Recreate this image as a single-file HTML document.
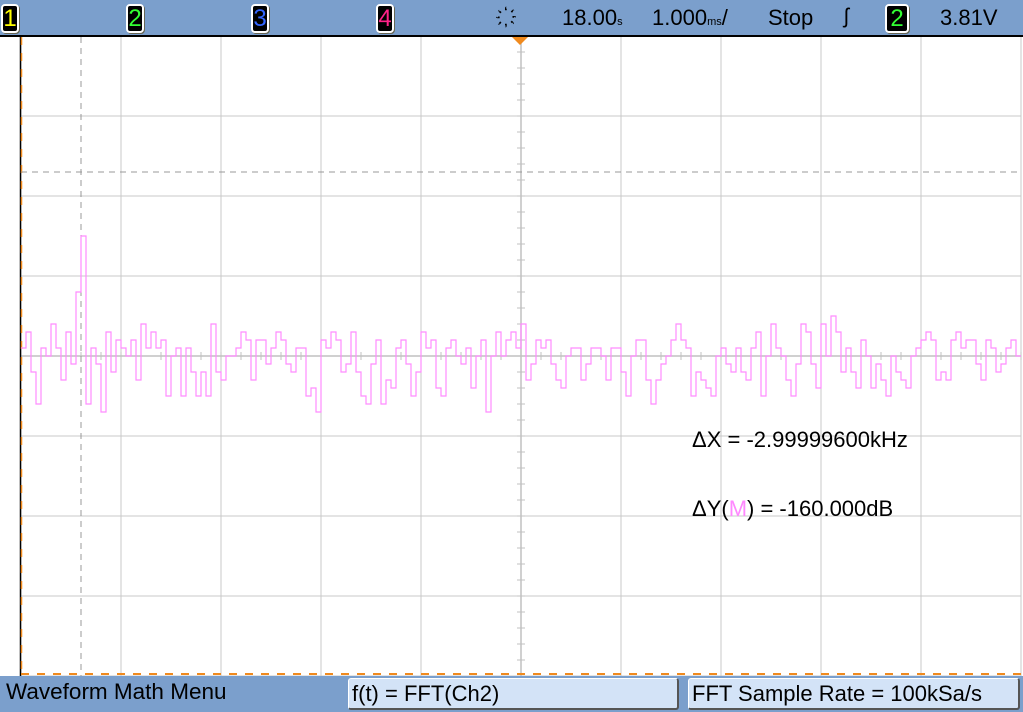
<!DOCTYPE html>
<html><head><meta charset="utf-8"><style>
body{margin:0;width:1023px;height:712px;overflow:hidden;background:#fff;font-family:"Liberation Sans",sans-serif}
#top{position:absolute;left:0;top:0;width:1023px;height:35px;background:#7b9fcc;border-bottom:2px solid #000}
.ch{position:absolute;top:4px;width:14px;height:25px;background:#000;border:2px solid #fff;border-radius:4px;box-shadow:1px 1px 0 #665;font-size:24px;line-height:25px;text-align:center}
.t{position:absolute;top:5px;font-size:21px;color:#000}
#bot{position:absolute;left:0;top:676px;width:1023px;height:36px;background:#7b9fcc}
.btn{position:absolute;top:2px;height:29px;background:#d3e3f7;border:1px solid #fff;border-right:2px solid #555;border-bottom:2px solid #555;border-radius:3px;font-size:22px;line-height:29px;padding-left:3px;box-sizing:content-box}
</style></head><body>
<div id="top">
<div class="ch" style="left:1px;color:#ff0">1</div>
<div class="ch" style="left:126px;color:#3f3">2</div>
<div class="ch" style="left:251px;color:#36f">3</div>
<div class="ch" style="left:376px;color:#f28">4</div>
<div class="t" style="left:506px;top:3px;font-size:22px">҉</div>
<div class="t" style="left:562px;font-size:22px">18.00<span style="font-size:11px">s</span></div>
<div class="t" style="left:652px;font-size:22px">1.000<span style="font-size:11px">ms</span>/</div>
<div class="t" style="left:768px;font-size:22px">Stop</div>
<div class="t" style="left:844px">&#x0283;</div>
<div class="ch" style="left:885px;width:20px;color:#3f3">2</div>
<div class="t" style="left:940px;font-size:22px">3.81V</div>
</div>
<svg id="plot" style="position:absolute;left:0;top:37px" width="1023" height="639"></svg>
<div style="position:absolute;left:692px;top:427px;font-size:22px">ΔX = -2.99999600kHz</div>
<div style="position:absolute;left:692px;top:496px;font-size:22px">ΔY(<span style="color:#f8f">M</span>) = -160.000dB</div>
<div id="bot">
<div style="position:absolute;left:6px;top:3px;font-size:22.5px">Waveform Math Menu</div>
<div class="btn" style="left:348px;width:325px">f(t) = FFT(Ch2)</div>
<div class="btn" style="left:688px;width:326px">FFT Sample Rate = 100kSa/s</div>
</div>
<script>
const levelDb=[1,3,-2,-6,1,0,4,1,-3,3,-1,8,15,-6,1,-1,-7,3,-2,2,1,0,2,-3,4,1,3,1,2,-5,0,1,-5,1,-2,-5,-2,-5,4,-2,-3,0,0,1,3,2,-3,2,2,-1,1,3,2,-1,-2,1,1,-5,-4,-7,2,1,3,2,
-2,-1,3,-2,-5,-6,-1,2,-6,-3,-4,1,2,-1,-5,-2,3,1,2,-4,-5,1,2,0,-1,1,-4,0,2,-7,0,3,0,2,3,1,4,-3,-1,2,1,2,-1,-3,-4,0,1,1,-3,-1,1,1,0,-3,1,1,-2,-5,0,2,2,-3,-6,-3,-1,0,2,4,2,1,-5,-2,-3,-4,-5,0,1,-1,-2,1,-2,-3,1,3,-5,0,4,1,0,-3,-5,-1,4,3,-1,-4,4,0,5,3,-2,1,-2,-4,2,0,-4,-1,-3,-5,0,-2,-3,-4,0,1,2,3,2,-3,-2,-3,2,3,1,2,2,-1,-3,2,1,-2,-1,1,2,0];
const yTicksDiv=[-4,-3,-2,-1,0,1,2,3,4];
const xTicksDiv=[0,1,2,3,4,5,6,7,8,9,10];
const cursorXdiv=0.6, cursorYdiv=2.3;
const svg=document.getElementById('plot');const NS='http://www.w3.org/2000/svg';
const X0=21,DX=100,CY=319,DY=80,BIN=5;
const xd=d=>X0+d*DX, yd=d=>CY-d*DY, yDb=v=>CY-v*DY/10, xb=i=>X0+i*BIN;
function mk(t,a,name){const e=document.createElementNS(NS,t);for(const k in a)e.setAttribute(k,a[k]);


svg.appendChild(e);return e;}
xTicksDiv.forEach(d=>mk('line',{x1:xd(d),x2:xd(d),y1:0,y2:639,stroke:'#c8c8c8','stroke-width':1},'grid-vertical'));
yTicksDiv.forEach(d=>mk('line',{x1:X0,x2:1021,y1:yd(d),y2:yd(d),stroke:'#c8c8c8','stroke-width':1},'grid-horizontal'));
mk('line',{x1:X0,x2:1021,y1:CY,y2:CY,stroke:'#c0c0c0','stroke-width':1.5},'center-axis-horizontal');
mk('line',{x1:xd(5),x2:xd(5),y1:0,y2:639,stroke:'#c0c0c0','stroke-width':1.5},'center-axis-vertical');
for(let i=0;i<=50;i++){mk('line',{x1:xd(i/5),x2:xd(i/5),y1:CY-4,y2:CY+4,stroke:'#c0c0c0'},'center-tick-x');}
for(let i=0;i<=40;i++){mk('line',{x1:xd(5)-4,x2:xd(5)+4,y1:yd(-4+i/5),y2:yd(-4+i/5),stroke:'#c0c0c0'},'center-tick-y');}
mk('line',{x1:20.5,x2:20.5,y1:0,y2:639,stroke:'#000','stroke-width':1.5},'left-border');
mk('line',{x1:21.5,x2:21.5,y1:0,y2:639,stroke:'#f08a1e','stroke-width':1.5,'stroke-dasharray':'8 8'},'ref-cursor-x');
mk('line',{x1:X0,x2:1021,y1:637,y2:637,stroke:'#f08a1e','stroke-width':2,'stroke-dasharray':'8 8'},'ref-cursor-y');
mk('line',{x1:xd(cursorXdiv),x2:xd(cursorXdiv),y1:0,y2:639,stroke:'#999','stroke-dasharray':'6 5'},'cursor-x2');
mk('line',{x1:X0,x2:1021,y1:yd(cursorYdiv),y2:yd(cursorYdiv),stroke:'#999','stroke-dasharray':'6 5'},'cursor-y2');
let d='';levelDb.forEach((v,i)=>{d+=(i?'L':'M')+xb(i)+' '+yDb(v)+'L'+(xb(i)+BIN)+' '+yDb(v);});
mk('path',{d:d,fill:'none',stroke:'#ff8cff','stroke-width':1.2},'fft-trace');
mk('polygon',{points:'512,0 528,0 520,8',fill:'#f08a1e'},'trigger-position-marker');
</script>
</body></html>
